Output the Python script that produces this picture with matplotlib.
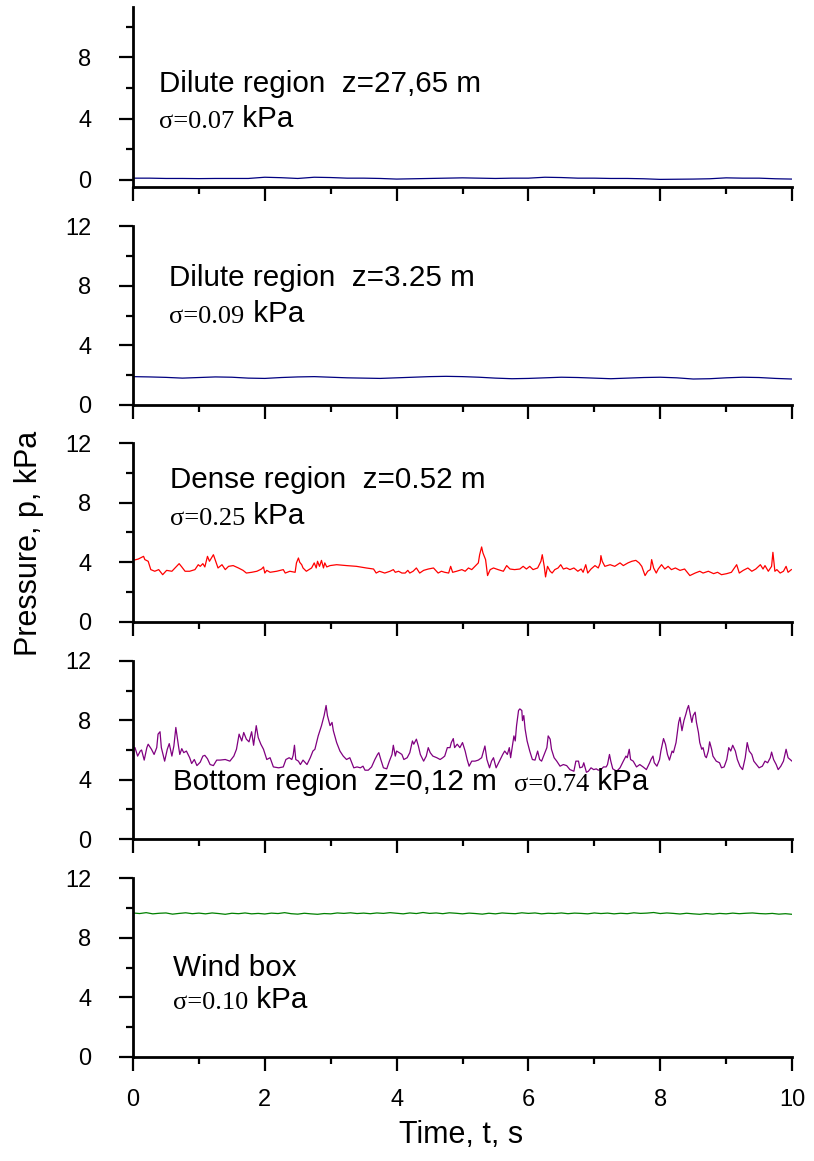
import matplotlib.pyplot as plt
import numpy as np

plt.rcParams['font.family'] = ['Liberation Sans', 'DejaVu Sans']

# pressure traces: (time s, pressure kPa)
dilute_top = [0.12, 0.12, 0.10, 0.10, 0.09, 0.10, 0.10, 0.10, 0.18, 0.15,
              0.10, 0.18, 0.16, 0.12, 0.12, 0.10, 0.06, 0.08, 0.10, 0.12,
              0.14, 0.12, 0.10, 0.12, 0.12, 0.18, 0.16, 0.12, 0.12, 0.10,
              0.10, 0.08, 0.04, 0.05, 0.06, 0.08, 0.14, 0.12, 0.12, 0.08, 0.06]

dilute_low = [1.90, 1.88, 1.85, 1.80, 1.84, 1.88, 1.86, 1.80, 1.78, 1.84,
              1.88, 1.90, 1.86, 1.82, 1.80, 1.78, 1.82, 1.86, 1.90, 1.92,
              1.90, 1.86, 1.80, 1.76, 1.78, 1.82, 1.86, 1.84, 1.80, 1.76,
              1.80, 1.84, 1.86, 1.82, 1.74, 1.76, 1.82, 1.86, 1.84, 1.78, 1.74]

dense = [(0.00, 4.13), (0.08, 4.22), (0.16, 4.40), (0.18, 4.18), (0.23, 4.07), (0.27, 3.51), (0.33, 3.40),
         (0.39, 3.51), (0.45, 3.17), (0.51, 3.46), (0.59, 3.40), (0.66, 3.73), (0.70, 3.91), (0.74, 3.69),
         (0.79, 3.40), (0.86, 3.40), (0.94, 3.51), (0.99, 3.84), (1.02, 3.73), (1.06, 3.91), (1.09, 3.69),
         (1.13, 4.40), (1.16, 4.07), (1.19, 4.29), (1.22, 4.51), (1.26, 4.00), (1.29, 3.62), (1.35, 3.84),
         (1.40, 3.51), (1.45, 3.73), (1.52, 3.78), (1.60, 3.62), (1.67, 3.46), (1.72, 3.28), (1.80, 3.33),
         (1.88, 3.40), (1.95, 3.55), (1.98, 3.69), (2.00, 3.28), (2.03, 3.46), (2.08, 3.33), (2.18, 3.40),
         (2.28, 3.51), (2.31, 3.28), (2.38, 3.40), (2.46, 3.33), (2.48, 3.96), (2.51, 4.29), (2.53, 4.00),
         (2.56, 3.84), (2.58, 3.62), (2.63, 3.40), (2.71, 3.62), (2.75, 3.96), (2.78, 3.62), (2.80, 4.07),
         (2.83, 3.73), (2.86, 4.13), (2.89, 3.62), (2.91, 3.96), (2.94, 3.69), (2.99, 3.78), (3.09, 3.84),
         (3.24, 3.78), (3.39, 3.73), (3.54, 3.62), (3.65, 3.55), (3.69, 3.28), (3.74, 3.40), (3.82, 3.28),
         (3.90, 3.40), (3.95, 3.51), (3.98, 3.33), (4.03, 3.40), (4.08, 3.28), (4.13, 3.28), (4.17, 3.46),
         (4.20, 3.28), (4.25, 3.40), (4.30, 3.62), (4.35, 3.28), (4.41, 3.46), (4.48, 3.55), (4.56, 3.62),
         (4.63, 3.28), (4.68, 3.40), (4.73, 3.33), (4.79, 3.28), (4.82, 3.73), (4.85, 3.33), (4.91, 3.40),
         (4.99, 3.51), (5.04, 3.40), (5.09, 3.62), (5.14, 3.51), (5.19, 3.73), (5.24, 3.96), (5.26, 4.51),
         (5.29, 5.03), (5.31, 4.63), (5.35, 4.18), (5.38, 3.11), (5.42, 3.51), (5.47, 3.62), (5.54, 3.51),
         (5.62, 3.40), (5.67, 3.78), (5.72, 3.55), (5.79, 3.51), (5.87, 3.55), (5.92, 3.73), (5.97, 3.55),
         (6.02, 3.73), (6.07, 3.51), (6.14, 3.62), (6.19, 4.07), (6.21, 4.51), (6.24, 3.73), (6.26, 3.02),
         (6.29, 3.73), (6.33, 3.40), (6.36, 3.28), (6.40, 3.51), (6.45, 3.62), (6.49, 3.84), (6.53, 3.55),
         (6.58, 3.62), (6.63, 3.51), (6.69, 3.62), (6.75, 3.40), (6.80, 3.55), (6.83, 3.33), (6.87, 3.84),
         (6.90, 3.28), (6.95, 3.55), (7.01, 3.78), (7.06, 3.62), (7.09, 3.96), (7.10, 4.45), (7.12, 4.07),
         (7.16, 3.73), (7.24, 3.84), (7.31, 3.73), (7.39, 3.96), (7.44, 3.78), (7.51, 3.96), (7.57, 4.07),
         (7.63, 4.13), (7.68, 3.96), (7.72, 3.73), (7.77, 3.11), (7.81, 3.40), (7.85, 3.51), (7.87, 4.18),
         (7.90, 3.62), (7.94, 3.28), (7.97, 3.55), (8.02, 3.84), (8.07, 3.55), (8.12, 3.73), (8.17, 3.51),
         (8.23, 3.62), (8.30, 3.46), (8.37, 3.55), (8.45, 3.11), (8.53, 3.28), (8.60, 3.40), (8.65, 3.28),
         (8.73, 3.40), (8.81, 3.24), (8.87, 3.33), (8.93, 3.17), (9.01, 3.24), (9.08, 3.33), (9.16, 3.84),
         (9.20, 3.28), (9.26, 3.46), (9.33, 3.62), (9.39, 3.40), (9.45, 3.55), (9.52, 3.84), (9.56, 3.55),
         (9.59, 3.78), (9.64, 3.40), (9.69, 3.73), (9.71, 4.67), (9.74, 3.40), (9.77, 3.51), (9.82, 3.28),
         (9.87, 3.40), (9.91, 3.73), (9.94, 3.33), (9.99, 3.51)]

bottom = [(0.00, 6.10), (0.03, 6.16), (0.07, 5.59), (0.11, 5.93), (0.13, 6.00), (0.17, 5.32), (0.21, 6.16),
          (0.23, 6.39), (0.28, 6.05), (0.32, 5.70), (0.36, 6.16), (0.38, 7.07), (0.41, 7.23), (0.43, 6.16),
          (0.48, 5.25), (0.52, 6.05), (0.55, 6.43), (0.59, 5.59), (0.62, 6.27), (0.65, 7.52), (0.69, 6.27),
          (0.71, 5.70), (0.74, 6.09), (0.77, 5.82), (0.81, 5.93), (0.86, 5.48), (0.89, 5.09), (0.93, 5.36),
          (0.97, 4.95), (1.02, 5.18), (1.06, 5.59), (1.09, 5.64), (1.13, 5.41), (1.17, 5.02), (1.22, 4.95),
          (1.27, 5.32), (1.32, 5.32), (1.40, 5.36), (1.47, 5.25), (1.53, 5.59), (1.57, 6.05), (1.61, 7.07),
          (1.65, 6.61), (1.68, 7.18), (1.72, 6.73), (1.76, 6.55), (1.80, 7.23), (1.83, 6.32), (1.87, 7.64),
          (1.90, 6.84), (1.94, 6.39), (1.98, 6.05), (2.03, 5.36), (2.08, 5.48), (2.13, 4.86), (2.21, 4.80),
          (2.28, 4.86), (2.32, 5.36), (2.37, 5.48), (2.41, 5.36), (2.43, 5.64), (2.45, 6.32), (2.47, 5.36),
          (2.51, 5.25), (2.54, 5.02), (2.58, 5.32), (2.64, 5.02), (2.69, 5.48), (2.73, 5.93), (2.76, 6.05),
          (2.81, 6.95), (2.86, 7.64), (2.90, 8.32), (2.93, 9.00), (2.95, 8.32), (2.99, 7.64), (3.02, 7.86),
          (3.04, 7.30), (3.09, 6.50), (3.14, 5.93), (3.19, 5.59), (3.24, 5.36), (3.29, 5.48), (3.35, 4.80),
          (3.40, 4.86), (3.45, 4.80), (3.49, 4.91), (3.52, 4.64), (3.57, 4.64), (3.62, 4.86), (3.67, 5.36),
          (3.71, 5.70), (3.73, 5.82), (3.76, 5.36), (3.80, 4.80), (3.85, 4.73), (3.89, 5.25), (3.93, 5.70),
          (3.95, 6.32), (3.98, 5.59), (4.00, 5.93), (4.04, 5.82), (4.08, 5.70), (4.11, 5.36), (4.16, 5.48),
          (4.20, 5.82), (4.24, 6.61), (4.26, 6.39), (4.30, 6.73), (4.33, 6.27), (4.36, 5.70), (4.41, 5.25),
          (4.45, 5.59), (4.48, 6.16), (4.51, 5.82), (4.55, 5.59), (4.61, 5.48), (4.66, 5.36), (4.70, 5.48),
          (4.73, 5.59), (4.77, 6.16), (4.81, 6.16), (4.83, 6.50), (4.86, 6.77), (4.88, 6.16), (4.92, 6.39),
          (4.96, 6.16), (5.00, 6.50), (5.04, 5.93), (5.07, 5.36), (5.10, 4.91), (5.14, 5.25), (5.19, 5.25),
          (5.24, 5.32), (5.29, 5.48), (5.34, 6.27), (5.37, 5.36), (5.41, 4.80), (5.44, 5.25), (5.47, 5.48),
          (5.51, 4.80), (5.56, 5.25), (5.61, 5.70), (5.64, 5.93), (5.68, 5.70), (5.71, 6.16), (5.73, 5.48),
          (5.76, 6.39), (5.78, 6.95), (5.80, 6.61), (5.82, 7.64), (5.85, 8.66), (5.87, 8.77), (5.90, 8.66),
          (5.91, 7.98), (5.93, 8.32), (5.95, 7.41), (5.98, 6.61), (6.02, 5.93), (6.06, 5.36), (6.10, 5.32),
          (6.14, 5.93), (6.17, 5.36), (6.20, 5.25), (6.24, 5.70), (6.28, 6.16), (6.30, 6.95), (6.33, 6.73),
          (6.35, 6.05), (6.39, 5.48), (6.43, 5.25), (6.48, 4.91), (6.53, 5.02), (6.58, 4.95), (6.63, 4.68),
          (6.69, 4.57), (6.72, 5.25), (6.76, 5.25), (6.78, 4.80), (6.82, 4.86), (6.84, 5.14), (6.88, 4.50),
          (6.91, 4.57), (6.95, 4.80), (6.99, 4.68), (7.03, 4.73), (7.06, 4.64), (7.10, 4.68), (7.14, 4.86),
          (7.18, 4.86), (7.20, 5.02), (7.23, 5.70), (7.25, 5.25), (7.28, 4.73), (7.34, 4.57), (7.39, 4.80),
          (7.44, 5.25), (7.48, 5.59), (7.50, 5.48), (7.53, 6.05), (7.55, 5.36), (7.59, 5.25), (7.64, 4.86),
          (7.69, 5.02), (7.74, 4.86), (7.79, 4.68), (7.84, 5.14), (7.86, 5.36), (7.89, 5.59), (7.91, 5.14),
          (7.95, 4.91), (7.99, 5.36), (8.01, 5.93), (8.05, 6.77), (8.08, 6.39), (8.11, 5.70), (8.14, 5.32),
          (8.18, 5.93), (8.20, 5.82), (8.24, 6.50), (8.28, 7.86), (8.30, 8.20), (8.33, 7.30), (8.36, 7.98),
          (8.39, 8.43), (8.41, 8.77), (8.43, 9.00), (8.45, 8.55), (8.48, 7.86), (8.50, 8.32), (8.53, 8.55),
          (8.55, 7.86), (8.58, 7.18), (8.60, 6.50), (8.63, 6.05), (8.65, 6.16), (8.68, 5.59), (8.70, 5.48),
          (8.73, 5.93), (8.75, 6.55), (8.78, 6.05), (8.80, 5.59), (8.85, 5.25), (8.90, 5.14), (8.93, 4.80),
          (8.97, 4.86), (9.01, 5.36), (9.04, 6.16), (9.07, 5.93), (9.10, 6.32), (9.14, 5.93), (9.17, 5.36),
          (9.21, 4.91), (9.25, 4.68), (9.29, 5.48), (9.32, 6.50), (9.35, 5.93), (9.39, 5.70), (9.42, 5.25),
          (9.46, 5.02), (9.50, 4.80), (9.55, 4.91), (9.59, 5.25), (9.63, 5.14), (9.67, 5.48), (9.69, 5.86),
          (9.72, 5.36), (9.76, 5.02), (9.79, 4.68), (9.83, 4.91), (9.87, 5.25), (9.91, 6.05), (9.94, 5.48),
          (9.97, 5.36), (10.00, 5.25)]

wind_box = [9.66, 9.62, 9.68, 9.60, 9.64, 9.66, 9.58, 9.63, 9.67, 9.61,
            9.65, 9.60, 9.66, 9.62, 9.57, 9.64, 9.61, 9.66, 9.60, 9.63,
            9.59, 9.65, 9.62, 9.68, 9.61, 9.58, 9.64, 9.60, 9.57, 9.62,
            9.60, 9.66, 9.63, 9.67, 9.62, 9.65, 9.61, 9.66, 9.63, 9.68,
            9.64, 9.60, 9.66, 9.62, 9.69, 9.63, 9.66, 9.61, 9.67, 9.64,
            9.60, 9.65, 9.62, 9.58, 9.64, 9.60, 9.66, 9.63, 9.61, 9.67,
            9.63, 9.66, 9.60, 9.64, 9.62, 9.66, 9.61, 9.65, 9.63, 9.60,
            9.66, 9.62, 9.65, 9.60, 9.64, 9.61, 9.67, 9.63, 9.65, 9.69,
            9.62, 9.66, 9.63, 9.59, 9.64, 9.60, 9.57, 9.62, 9.58, 9.63,
            9.60, 9.65, 9.61, 9.64, 9.66, 9.62, 9.60, 9.63, 9.58, 9.61, 9.57]

headers = ["Dilute region  z=27,65 m", "Dilute region  z=3.25 m", "Dense region  z=0.52 m",
           "Bottom region  z=0,12 m  ", "Wind box"]
sigmas = ["\u03c3=0.07", "\u03c3=0.09", "\u03c3=0.25", "\u03c3=0.74", "\u03c3=0.10"]
colors = ["#000080", "#000080", "#ff0000", "#800080", "#008000"]

traces = [
    (np.linspace(0, 10, len(dilute_top)), dilute_top),
    (np.linspace(0, 10, len(dilute_low)), dilute_low),
    tuple(zip(*dense)),
    tuple(zip(*bottom)),
    (np.linspace(0, 10, len(wind_box)), wind_box),
]

# panel boxes in figure fractions, ylims and text anchors (x, y header, y sigma)
boxes = [(0.1634, 0.8389, 0.8096, 0.1551),
         (0.1634, 0.6512, 0.8096, 0.1541),
         (0.1634, 0.4643, 0.8096, 0.1541),
         (0.1634, 0.2773, 0.8096, 0.1534),
         (0.1634, 0.0896, 0.8096, 0.1541)]
ylims = [(-0.46, 11.3), (0, 12), (0, 12), (0, 12), (0, 12)]
text_pos = [(0.39, 6.3, 3.8), (0.55, 8.5, 5.9), (0.56, 9.5, 6.9), (0.61, 3.85, None), (0.61, 6.0, 3.6)]

fig = plt.figure(figsize=(8.14, 11.61), dpi=100)

for i in range(5):
    ax = fig.add_axes(boxes[i])
    t, p = traces[i]
    ax.plot(t, p, color=colors[i], lw=0.9)
    ax.set_xlim(0, 10)
    ax.set_ylim(*ylims[i])
    ax.spines['top'].set_visible(False)
    ax.spines['right'].set_visible(False)
    ax.spines['left'].set_linewidth(2)
    ax.spines['bottom'].set_linewidth(2)
    ax.set_xticks(np.arange(0, 11, 2))
    ax.set_xticks(np.arange(0, 11, 1), minor=True)
    ax.set_yticks([0, 4, 8, 12] if i > 0 else [0, 4, 8])
    ax.set_yticks([2, 6, 10], minor=True)
    ax.tick_params(which='major', direction='out', length=10, width=1.6, labelsize=17)
    ax.tick_params(which='minor', direction='out', length=5, width=1.6)
    ax.tick_params(axis='y', pad=20)
    ax.tick_params(axis='x', pad=13)
    if i < 4:
        ax.tick_params(axis='x', labelbottom=False)

    x, yh, ys = text_pos[i]
    head = ax.text(x, yh, headers[i], fontsize=21.3, va='center')
    if ys is None:
        sig = ax.annotate(sigmas[i], xy=(1, 0), xycoords=head, family=['Liberation Serif'],
                          fontsize=19, va='bottom')
    else:
        sig = ax.text(x, ys, sigmas[i], family=['Liberation Serif'], fontsize=19, va='center')
    ax.annotate(" kPa", xy=(1, 0), xycoords=sig, fontsize=21.3, va='bottom')

fig.text(0.036, 0.532, "Pressure, p, kPa", rotation=90, fontsize=22, ha='center', va='center')
fig.text(0.567, 0.022, "Time, t, s", fontsize=22, ha='center', va='center')

fig.savefig("out.png", dpi=100)
